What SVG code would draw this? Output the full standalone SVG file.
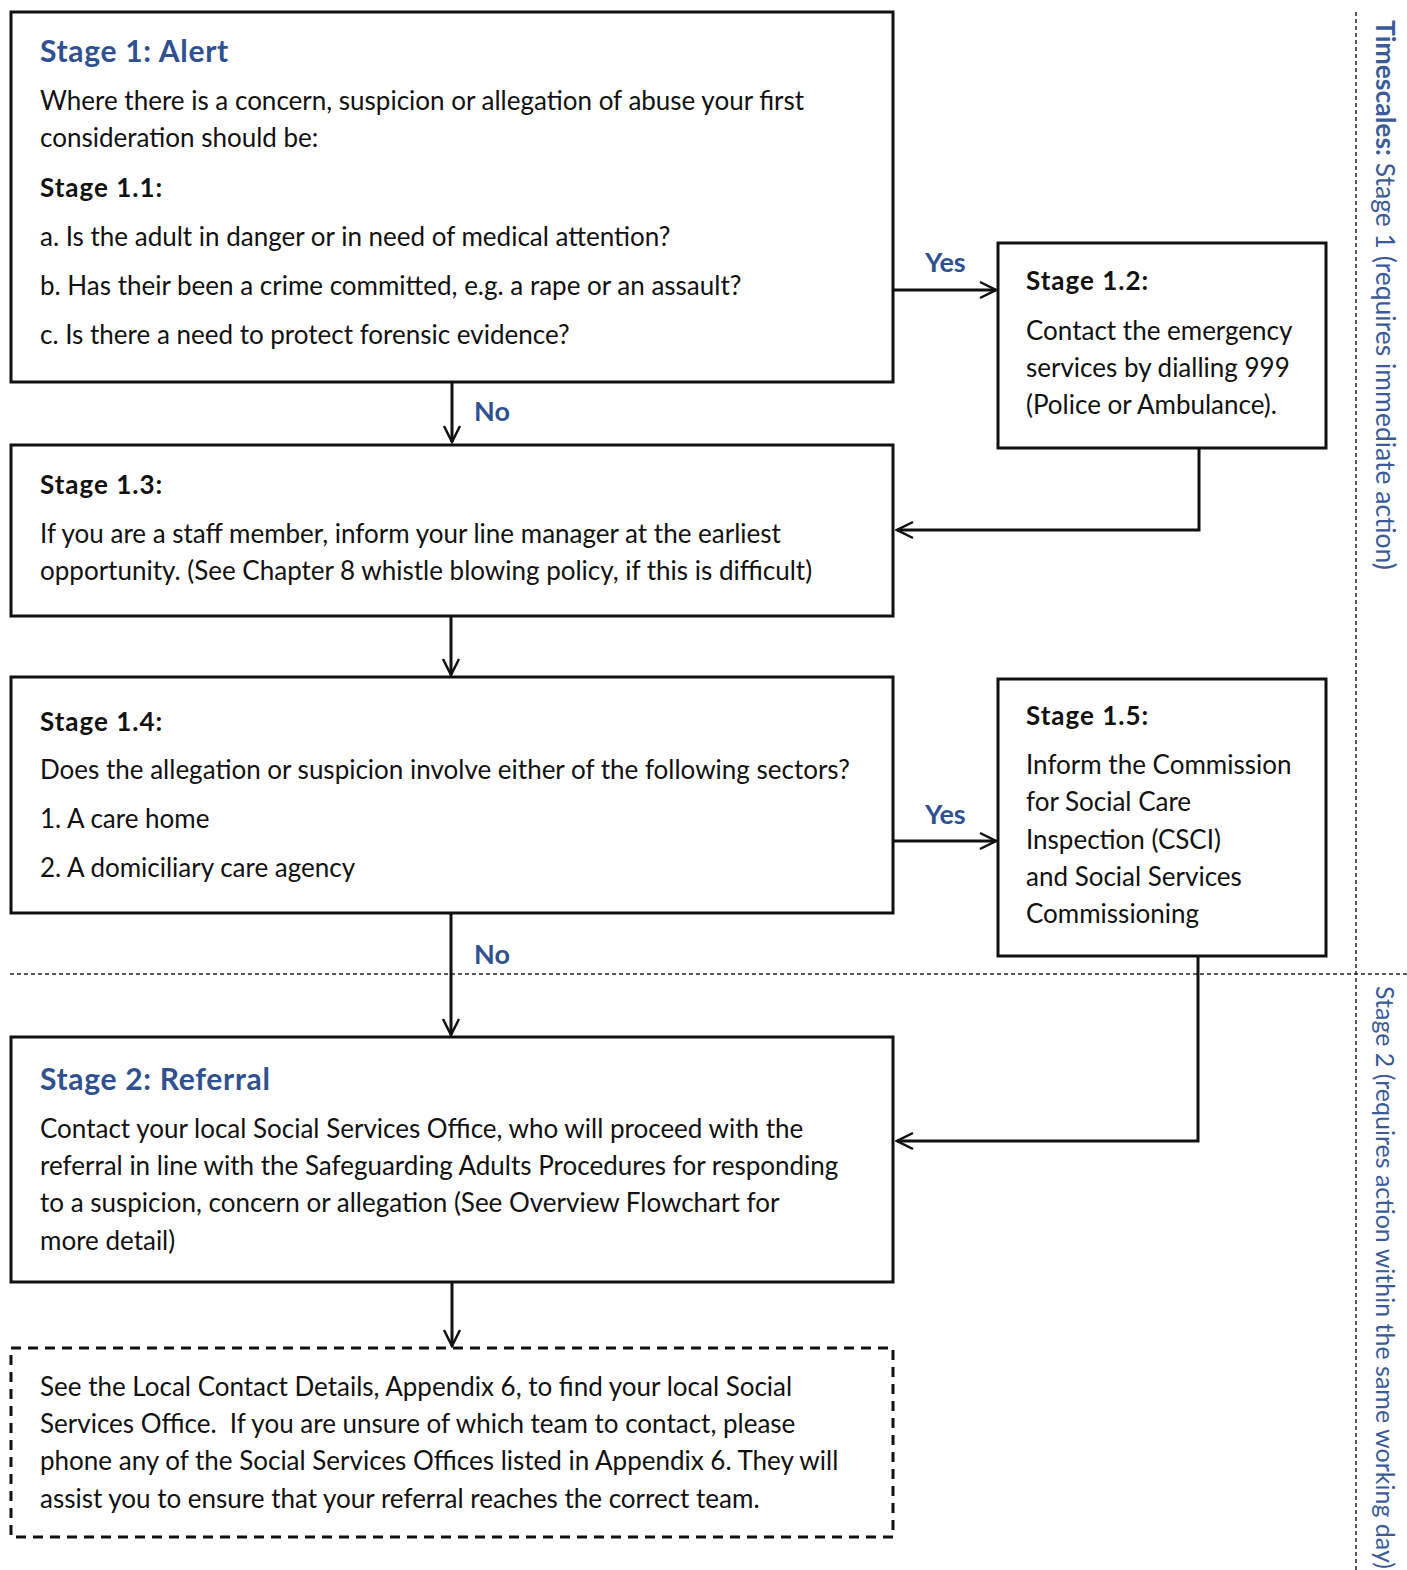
<svg xmlns="http://www.w3.org/2000/svg" width="1407" height="1570" viewBox="0 0 1407 1570">
<defs>
<style>
.box{fill:#fff;stroke:#111;stroke-width:3}
.dbox{fill:#fff;stroke:#111;stroke-width:3;stroke-dasharray:10 7}
.t{font-family:Lato,"Open Sans",sans-serif;font-size:26px;fill:#111}
.b{font-family:Lato,"Open Sans",sans-serif;font-size:26px;font-weight:bold;fill:#111;letter-spacing:1px}
.h{font-family:Lato,"Open Sans",sans-serif;font-size:30px;font-weight:bold;fill:#2f5190;letter-spacing:0.7px}
.lbl{font-family:Lato,"Open Sans",sans-serif;font-size:27px;font-weight:bold;fill:#2f5190}
.side{font-family:Lato,"Open Sans",sans-serif;font-size:26.5px;fill:#3a5a98}
.con{fill:none;stroke:#111;stroke-width:3}
.guide{fill:none;stroke:#222;stroke-width:1.5;stroke-dasharray:4 3}
</style>
<marker id="arr" viewBox="0 0 20 20" refX="18" refY="10" markerWidth="20" markerHeight="20" markerUnits="userSpaceOnUse" orient="auto">
<path d="M2,2 L18,10 L2,18" fill="none" stroke="#111" stroke-width="2.5"/>
</marker>
</defs>
<rect width="1407" height="1570" fill="#fff"/>
<g id="guides">
<line class="guide" x1="1356" y1="12" x2="1356" y2="1570"/>
<line class="guide" x1="10" y1="974" x2="1407" y2="974"/>
</g>
<g id="timescales">
<text class="side" transform="translate(1376,20) rotate(90)"><tspan font-weight="bold">Timescales:</tspan> Stage 1 (requires immediate action)</text>
<text class="side" transform="translate(1376,986) rotate(90)" style="font-size:25px">Stage 2 (requires action within the same working day)</text>
</g>
<g id="connectors">
<line class="con" x1="894" y1="290" x2="996" y2="290" marker-end="url(#arr)"/>
<line class="con" x1="452" y1="382" x2="452" y2="442" marker-end="url(#arr)"/>
<polyline class="con" points="1199,448 1199,530 897,530" marker-end="url(#arr)"/>
<line class="con" x1="451" y1="616" x2="451" y2="675" marker-end="url(#arr)"/>
<line class="con" x1="894" y1="841" x2="996" y2="841" marker-end="url(#arr)"/>
<line class="con" x1="451" y1="913" x2="451" y2="1035" marker-end="url(#arr)"/>
<polyline class="con" points="1198,956 1198,1141 897,1141" marker-end="url(#arr)"/>
<line class="con" x1="452" y1="1282" x2="452" y2="1346" marker-end="url(#arr)"/>
<text class="lbl" x="925" y="272">Yes</text>
<text class="lbl" x="474" y="421">No</text>
<text class="lbl" x="925" y="824">Yes</text>
<text class="lbl" x="474" y="964">No</text>
</g>
<g id="stage1">
<rect class="box" x="11" y="12" width="882" height="370"/>
<text class="h" x="40" y="62">Stage 1: Alert</text>
<text class="t" x="40" y="110">Where there is a concern, suspicion or allegation of abuse your first</text>
<text class="t" x="40" y="147">consideration should be:</text>
<text class="b" x="40" y="197">Stage 1.1:</text>
<text class="t" x="40" y="246">a. Is the adult in danger or in need of medical attention?</text>
<text class="t" x="40" y="295">b. Has their been a crime committed, e.g. a rape or an assault?</text>
<text class="t" x="40" y="344">c. Is there a need to protect forensic evidence?</text>
</g>
<g id="stage12">
<rect class="box" x="998" y="243" width="328" height="205"/>
<text class="b" x="1026" y="290">Stage 1.2:</text>
<text class="t" x="1026" y="340">Contact the emergency</text>
<text class="t" x="1026" y="377">services by dialling 999</text>
<text class="t" x="1026" y="414">(Police or Ambulance).</text>
</g>
<g id="stage13">
<rect class="box" x="11" y="445" width="882" height="171"/>
<text class="b" x="40" y="494">Stage 1.3:</text>
<text class="t" x="40" y="543">If you are a staff member, inform your line manager at the earliest</text>
<text class="t" x="40" y="580">opportunity. (See Chapter 8 whistle blowing policy, if this is difficult)</text>
</g>
<g id="stage14">
<rect class="box" x="11" y="677" width="882" height="236"/>
<text class="b" x="40" y="731">Stage 1.4:</text>
<text class="t" x="40" y="779">Does the allegation or suspicion involve either of the following sectors?</text>
<text class="t" x="40" y="828">1. A care home</text>
<text class="t" x="40" y="877">2. A domiciliary care agency</text>
</g>
<g id="stage15">
<rect class="box" x="998" y="679" width="328" height="277"/>
<text class="b" x="1026" y="725">Stage 1.5:</text>
<text class="t" x="1026" y="774">Inform the Commission</text>
<text class="t" x="1026" y="811">for Social Care</text>
<text class="t" x="1026" y="849">Inspection (CSCI)</text>
<text class="t" x="1026" y="886">and Social Services</text>
<text class="t" x="1026" y="923">Commissioning</text>
</g>
<g id="stage2">
<rect class="box" x="11" y="1037" width="882" height="245"/>
<text class="h" x="40" y="1090">Stage 2: Referral</text>
<text class="t" x="40" y="1138">Contact your local Social Services Office, who will proceed with the</text>
<text class="t" x="40" y="1175">referral in line with the Safeguarding Adults Procedures for responding</text>
<text class="t" x="40" y="1212">to a suspicion, concern or allegation (See Overview Flowchart for</text>
<text class="t" x="40" y="1250">more detail)</text>
</g>
<g id="contacts">
<rect class="dbox" x="11" y="1348" width="882" height="189"/>
<text class="t" x="40" y="1396">See the Local Contact Details, Appendix 6, to find your local Social</text>
<text class="t" x="40" y="1433" xml:space="preserve">Services Office.  If you are unsure of which team to contact, please</text>
<text class="t" x="40" y="1470">phone any of the Social Services Offices listed in Appendix 6. They will</text>
<text class="t" x="40" y="1508">assist you to ensure that your referral reaches the correct team.</text>
</g>
</svg>
